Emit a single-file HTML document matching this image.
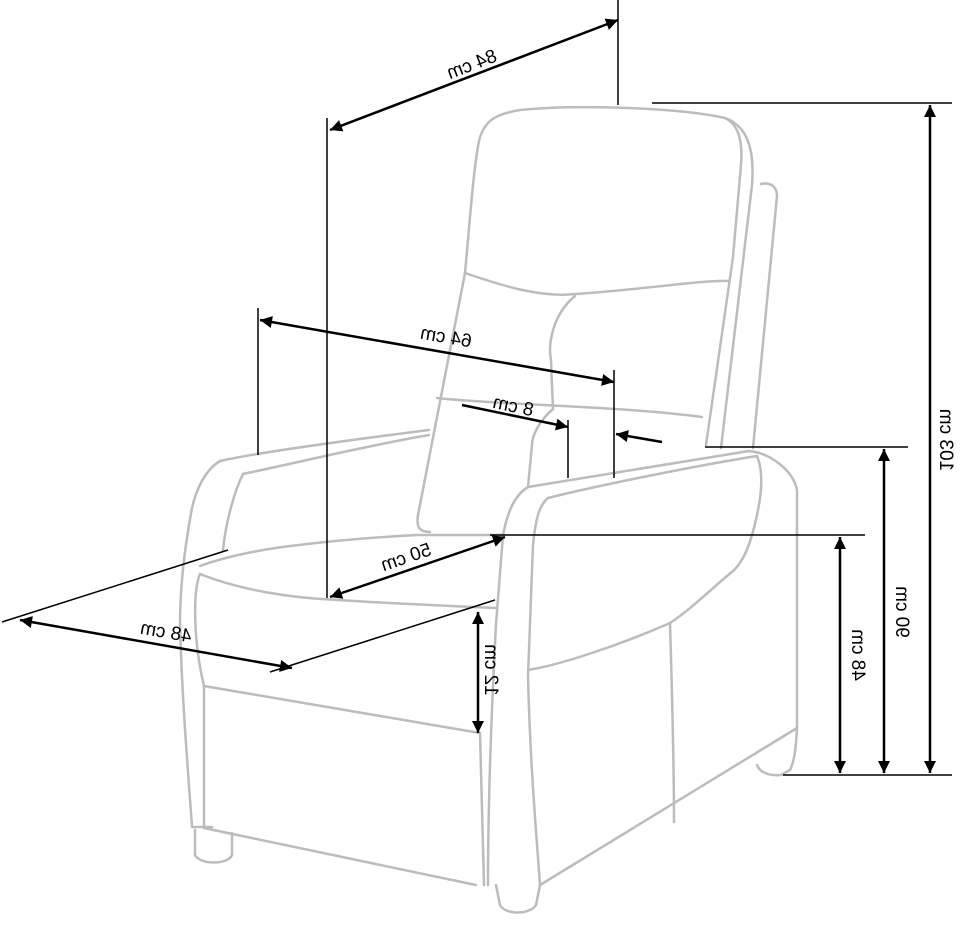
<!DOCTYPE html>
<html><head><style>
html,body{margin:0;padding:0;background:#fff;}
svg{display:block;}
text{font-family:"Liberation Sans","DejaVu Sans",sans-serif;font-size:19px;fill:#000;}
</style></head><body>
<svg width="970" height="935" viewBox="0 0 970 935" xmlns="http://www.w3.org/2000/svg">
<defs>
<marker id="b" viewBox="0 0 10 10" refX="10" refY="5" markerWidth="18" markerHeight="12" orient="auto-start-reverse" markerUnits="userSpaceOnUse"><path d="M0,0L10,5L0,10z" fill="#000"/></marker>
</defs>
<g fill="none" stroke="#bcbcbc" stroke-width="2.5" stroke-linecap="round" stroke-linejoin="round">
<path d="M465,273 C470,220 474,160 480,137 C486,120 496,114 520,110 C580,104 680,108 725,118 C738,124 743,140 741,165 L733,257 L706,445"/>
<path d="M725,118 C745,125 755,145 752,185 L721,448"/>
<path d="M761,184 C770,182 777,186 777,196 L753,448"/>
<path d="M465,273 C500,285 540,298 575,294 C640,290 700,280 729,281"/>
<path d="M465,273 L418,515 C416,528 420,532 430,532"/>
<path d="M575,296 C552,315 548,345 551,360 C552,390 553,405 553,409"/>
<path d="M437,398 C500,405 620,406 702,417"/>
<path d="M553,409 C540,420 532,435 532,445 L528,487"/>
<path d="M528,487 L749,451 C770,453 793,470 797,490 L797,728 C796,745 795,760 790,770"/>
<path d="M528,487 C515,495 508,510 503,535 L496,624 C492,700 488,800 488,885"/>
<path d="M548,498 C540,505 536,515 533,545 L528,676 C530,760 536,830 540,885"/>
<path d="M548,498 C600,485 700,465 757,456 C763,470 762,490 758,510 C752,540 745,560 733,571 C710,590 690,610 670,623 C620,645 560,665 528,670"/>
<path d="M540,885 L797,728"/>
<path d="M670,623 C672,690 674,760 674,822"/>
<path d="M757,765 C760,773 770,776 781,775 L790,770"/>
<path d="M496,885 L500,905 C505,915 530,915 536,905 L540,885"/>
<path d="M220,461 C260,452 350,440 429,430"/>
<path d="M243,474 C300,462 370,445 429,435"/>
<path d="M220,461 C205,470 196,490 192,508 C186,540 180,580 180,624 C182,700 188,770 192,827 L212,827"/>
<path d="M243,474 C235,490 226,520 223,550"/>
<path d="M200,566 C230,555 270,548 299,545 C340,540 380,537 417,535 L504,535"/>
<path d="M200,574 C240,590 290,598 338,600 C400,604 450,606 496,608"/>
<path d="M200,574 C193,590 193,640 204,686 L204,828"/>
<path d="M204,686 L480,733 L484,885"/>
<path d="M204,828 L476,885"/>
<path d="M195,830 L195,855 C200,865 228,865 232,855 L232,833"/>
</g>
<g stroke="#000" stroke-width="1.5" fill="none">
<line x1="618" y1="0" x2="618" y2="105"/>
<line x1="327" y1="118" x2="327" y2="598"/>
<line x1="652" y1="103" x2="952" y2="103"/>
<line x1="783" y1="775" x2="952" y2="775"/>
<line x1="705" y1="447" x2="908" y2="447"/>
<line x1="490" y1="535" x2="865" y2="535"/>
<line x1="258" y1="308" x2="258" y2="455"/>
<line x1="614" y1="370" x2="614" y2="478"/>
<line x1="568" y1="420" x2="568" y2="478"/>
<line x1="2" y1="622" x2="228" y2="550"/>
<line x1="270" y1="672" x2="495" y2="600"/>
</g>
<g stroke="#000" stroke-width="2.5" fill="none">
<line x1="330" y1="130" x2="618" y2="20" marker-start="url(#b)" marker-end="url(#b)"/>
<line x1="930" y1="105" x2="930" y2="773" marker-start="url(#b)" marker-end="url(#b)"/>
<line x1="884" y1="449" x2="884" y2="773" marker-start="url(#b)" marker-end="url(#b)"/>
<line x1="840" y1="537" x2="840" y2="773" marker-start="url(#b)" marker-end="url(#b)"/>
<line x1="260" y1="320" x2="614" y2="382" marker-start="url(#b)" marker-end="url(#b)"/>
<line x1="462" y1="405" x2="568" y2="427" marker-end="url(#b)"/>
<line x1="662" y1="442" x2="616" y2="434" marker-end="url(#b)"/>
<line x1="330" y1="597" x2="505" y2="537" marker-start="url(#b)" marker-end="url(#b)"/>
<line x1="20" y1="620" x2="292" y2="668" marker-start="url(#b)" marker-end="url(#b)"/>
<line x1="478" y1="612" x2="478" y2="733" marker-start="url(#b)" marker-end="url(#b)"/>
</g>
<g text-anchor="middle">
<text transform="translate(474,70) rotate(-21) scale(-1,1)">84 cm</text>
<text transform="translate(940,440) rotate(-90) scale(1,-1)">103 cm</text>
<text transform="translate(896,612) rotate(-90) scale(1,-1)">90 cm</text>
<text transform="translate(852,655) rotate(-90) scale(1,-1)">48 cm</text>
<text transform="translate(445,343) rotate(10) scale(-1,1)">64 cm</text>
<text transform="translate(512,412) rotate(12) scale(-1,1)">8 cm</text>
<text transform="translate(408,563) rotate(-19) scale(-1,1)">50 cm</text>
<text transform="translate(165,638) rotate(10) scale(-1,1)">48 cm</text>
<text transform="translate(485,670) rotate(-90) scale(1,-1)">12 cm</text>
</g>
</svg>
</body></html>
